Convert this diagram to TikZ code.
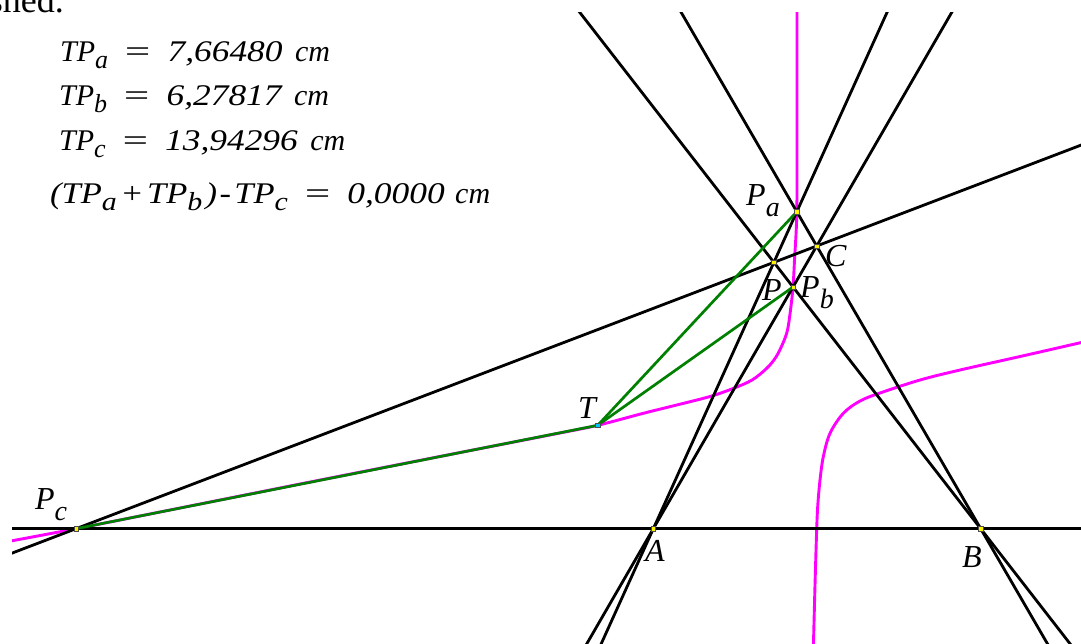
\documentclass[tikz,border=0pt]{standalone}
\usepackage{graphicx}
\usepackage{fontspec}
\setmainfont{Liberation Serif}
\newfontfamily\fmwide[FakeStretch=1.18]{Liberation Serif}
\usetikzlibrary{calc}
\newcommand\fsub[1]{\raisebox{-7pt}{\fontsize{26}{26}\selectfont #1}}
\newcommand\feq{\hspace{14pt}\scalebox{1.5}[1]{=}\hspace{15pt}}
\newcommand\fnum[1]{{\fmwide\itshape #1}}
\newcommand\lsub[1]{\raisebox{-11pt}{\fontsize{28}{28}\selectfont #1}}
\begin{document}
\begin{tikzpicture}[x=1pt,y=-1pt,
  ln/.style={line width=2.8pt, black},
  mg/.style={line width=2.9pt, color={rgb,255:red,255;green,0;blue,255}},
  gr/.style={line width=2.7pt, color={rgb,255:red,0;green,128;blue,0}},
  pt/.style={rectangle, fill=yellow, draw=black!70, line width=0.4pt, minimum size=4.5pt, inner sep=0pt},
  tpt/.style={rectangle, fill={rgb,255:red,0;green,200;blue,255}, draw=black!70, line width=0.4pt, minimum size=4.5pt, inner sep=0pt},
  lbl/.style={font=\fontsize{32}{32}\selectfont\itshape, inner sep=0pt, anchor=base west},
  fm/.style={font=\fontsize{30}{34}\selectfont\itshape, inner sep=0pt, anchor=base west}]
\useasboundingbox (0,0) rectangle (1081,643);
\coordinate (A) at (653.3,528.7);
\coordinate (B) at (980.7,528.7);
\coordinate (C) at (816.7,246);
\coordinate (Pc) at (76,528.7);
\coordinate (Pa) at (796.8,211.7);
\coordinate (P) at (intersection of A--Pa and C--Pc);
\coordinate (Pb) at (intersection of B--P and A--C);
\coordinate (T) at (597.7,425.3);

\begin{scope}
\clip (0,0) rectangle (1081,643);
\node[font=\fontsize{36}{36}\selectfont, anchor=base east, inner sep=0pt] (frag) at (64,12) {shed.};
\end{scope}

\begin{scope}
\clip (12,12) rectangle (1081,643);
% magenta locus
\draw[mg] plot[smooth, tension=0.55] coordinates {(797,5) (797,120) (796.8,211.7) (794.5,260) (793,287) (790.5,310) (787.5,330) (783,343) (776,357) (766.7,368.3) (752,380) (733,388.5) (710,396.5) (676.7,405) (643.3,413.3) (597.7,425.3) (560,433) (450,454.5) (300,484) (160,512) (76,528.7) (0,543)};
\draw[mg] plot[smooth, tension=0.55] coordinates {(1090,340.5) (1026.7,355) (960,370) (920,380) (880,393) (860,401) (843.3,413.3) (830,433.3) (823.3,456.7) (820,480) (817.8,505) (816.7,528.7) (815,585) (813.3,650)};
% black lines
\draw[ln] ($(A)!-5!(B)$) -- ($(A)!5!(B)$);
\draw[ln] ($(Pc)!-1!(C)$) -- ($(Pc)!3!(C)$);
\draw[ln] ($(A)!-3!(P)$) -- ($(A)!5!(P)$);
\draw[ln] ($(A)!-3!(C)$) -- ($(A)!5!(C)$);
\draw[ln] ($(B)!-3!(C)$) -- ($(B)!5!(C)$);
\draw[ln] ($(B)!-3!(P)$) -- ($(B)!5!(P)$);
% green segments
\draw[gr] (T) -- (Pa);
\draw[gr] (T) -- (Pb);
\draw[gr] (T) -- (Pc);
\end{scope}

% points
\node[pt] (mA) at (A) {};
\node[pt] (mB) at (B) {};
\node[pt] (mC) at (C) {};
\node[pt] (mP) at (P) {};
\node[pt] (mPa) at (Pa) {};
\node[pt] (mPb) at (Pb) {};
\node[pt] (mPc) at (Pc) {};
\node[tpt] (mT) at (T) {};

% labels
\node[lbl] (lPa) at (746,205) {P\lsub{a}};
\node[lbl] (lP) at (762,300) {P};
\node[lbl] (lPb) at (800,297) {P\lsub{b}};
\node[lbl] (lC) at (825,266) {C};
\node[lbl] (lT) at (578,418) {T};
\node[lbl] (lPc) at (35,509) {P\lsub{c}};
\node[lbl] (lA) at (645,561) {A};
\node[lbl] (lB) at (962,567) {B};

% formulas
\node[fm] (t1) at (60,61.7) {TP\fsub{a}\feq\fnum{7,66480}\hspace{5pt} cm};
\node[fm] (t2) at (59,105) {TP\fsub{b}\feq\fnum{6,27817}\hspace{5pt} cm};
\node[fm] (t3) at (59,150) {TP\fsub{c}\feq\fnum{13,94296}\hspace{5pt} cm};
\node[fm] (t4) at (50,203.3) {\scalebox{1.15}[1]{(TP\fsub{a}\hspace{3pt}+\hspace{3pt}TP\fsub{b}\hspace{3pt})\hspace{2pt}-\hspace{3pt}TP\fsub{c}}\feq\fnum{0,0000}\hspace{3pt} cm};
\end{tikzpicture}
\end{document}
